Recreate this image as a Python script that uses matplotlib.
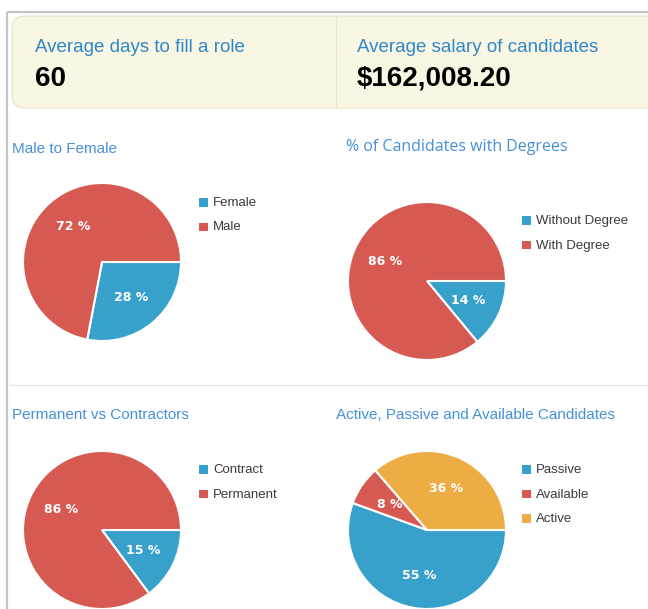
import matplotlib.pyplot as plt
from matplotlib.patches import FancyBboxPatch, Rectangle

# KPI values
kpi_labels = ["Average days to fill a role", "Average salary of candidates"]
kpi_values = ["60", "$162,008.20"]

# Pie data (values as shown in the labels)
gender_labels = ["Female", "Male"]
gender_values = [28, 72]

degree_labels = ["Without Degree", "With Degree"]
degree_values = [14, 86]

contract_labels = ["Contract", "Permanent"]
contract_values = [15, 86]

status_labels = ["Passive", "Available", "Active"]
status_values = [55, 8, 36]

BLUE = "#37a0cb"
RED = "#d65a52"
ORANGE = "#eeac44"
TITLE_BLUE = "#4690d6"

W, H = 648, 609
fig = plt.figure(figsize=(W / 100, H / 100), dpi=100)
fig.patch.set_facecolor("white")

# background axes in pixel coordinates
bg = fig.add_axes([0, 0, 1, 1])
bg.set_xlim(0, W)
bg.set_ylim(H, 0)
bg.axis("off")

# outer border
bg.plot([7, W], [12, 12], color="#c4c4c4", lw=1.6, solid_capstyle="butt")
bg.plot([7, 7], [12, H], color="#c4c4c4", lw=1.6, solid_capstyle="butt")
bg.plot([10, W], [385, 385], color="#e2e2e2", lw=0.9)

# KPI box
box = FancyBboxPatch((12, 16), 660, 92, boxstyle="round,pad=0,rounding_size=13",
                     facecolor="#faf6e4", edgecolor="#ebe5cc", lw=0.9)
bg.add_patch(box)
bg.plot([336, 336], [16, 108], color="#ebe5cc", lw=0.9)

for x, lab, val in zip([35, 357], kpi_labels, kpi_values):
    bg.text(x, 48, lab, fontsize=13.5, family="Liberation Sans", color="#2e87c8",
            va="center", ha="left")
    bg.text(x, 79, val, fontsize=20, family="Liberation Sans", weight="bold",
            color="black", va="center", ha="left")

# chart titles
bg.text(12, 149, "Male to Female", fontsize=11, family="Liberation Sans",
        color=TITLE_BLUE, va="center")
bg.text(346, 147, "% of Candidates with Degrees", fontsize=11.5, family="Open Sans",
        color=TITLE_BLUE, va="center")
bg.text(12, 415, "Permanent vs Contractors", fontsize=11, family="Liberation Sans",
        color=TITLE_BLUE, va="center")
bg.text(336, 415, "Active, Passive and Available Candidates", fontsize=11,
        family="Liberation Sans", color=TITLE_BLUE, va="center")

R = 79


def draw_pie(cx, cy, values, labels, colors, lx, ly):
    half = R * 1.03
    ax = fig.add_axes([(cx - half) / W, 1 - (cy + half) / H, 2 * half / W, 2 * half / H])
    wedges, texts, autotexts = ax.pie(
        values, colors=colors, startangle=0, counterclock=False,
        autopct="%d", pctdistance=0.58,
        wedgeprops=dict(edgecolor="white", linewidth=1.5),
        textprops=dict(color="white", weight="bold", fontsize=9, family="DejaVu Sans"))
    for t, v in zip(autotexts, values):
        t.set_text(f"{v} %")
    ax.set_xlim(-1.03, 1.03)
    ax.set_ylim(-1.03, 1.03)
    ax.axis("off")
    # legend
    for i, (lab, col) in enumerate(zip(labels, colors)):
        y = ly + i * 24.5
        bg.add_patch(Rectangle((lx, y - 5), 8.5, 8.5, facecolor=col, edgecolor="none"))
        bg.text(lx + 14, y, lab, fontsize=9.5, family="Liberation Sans",
                color="#3a3a3a", va="center", ha="left")


draw_pie(102, 262, gender_values, gender_labels, [BLUE, RED], 199, 203)
draw_pie(427, 281, degree_values, degree_labels, [BLUE, RED], 522, 221)
draw_pie(102, 530, contract_values, contract_labels, [BLUE, RED], 199, 470)
draw_pie(427, 530, status_values, status_labels, [BLUE, RED, ORANGE], 522, 470)

fig.savefig("out.png", dpi=100)
